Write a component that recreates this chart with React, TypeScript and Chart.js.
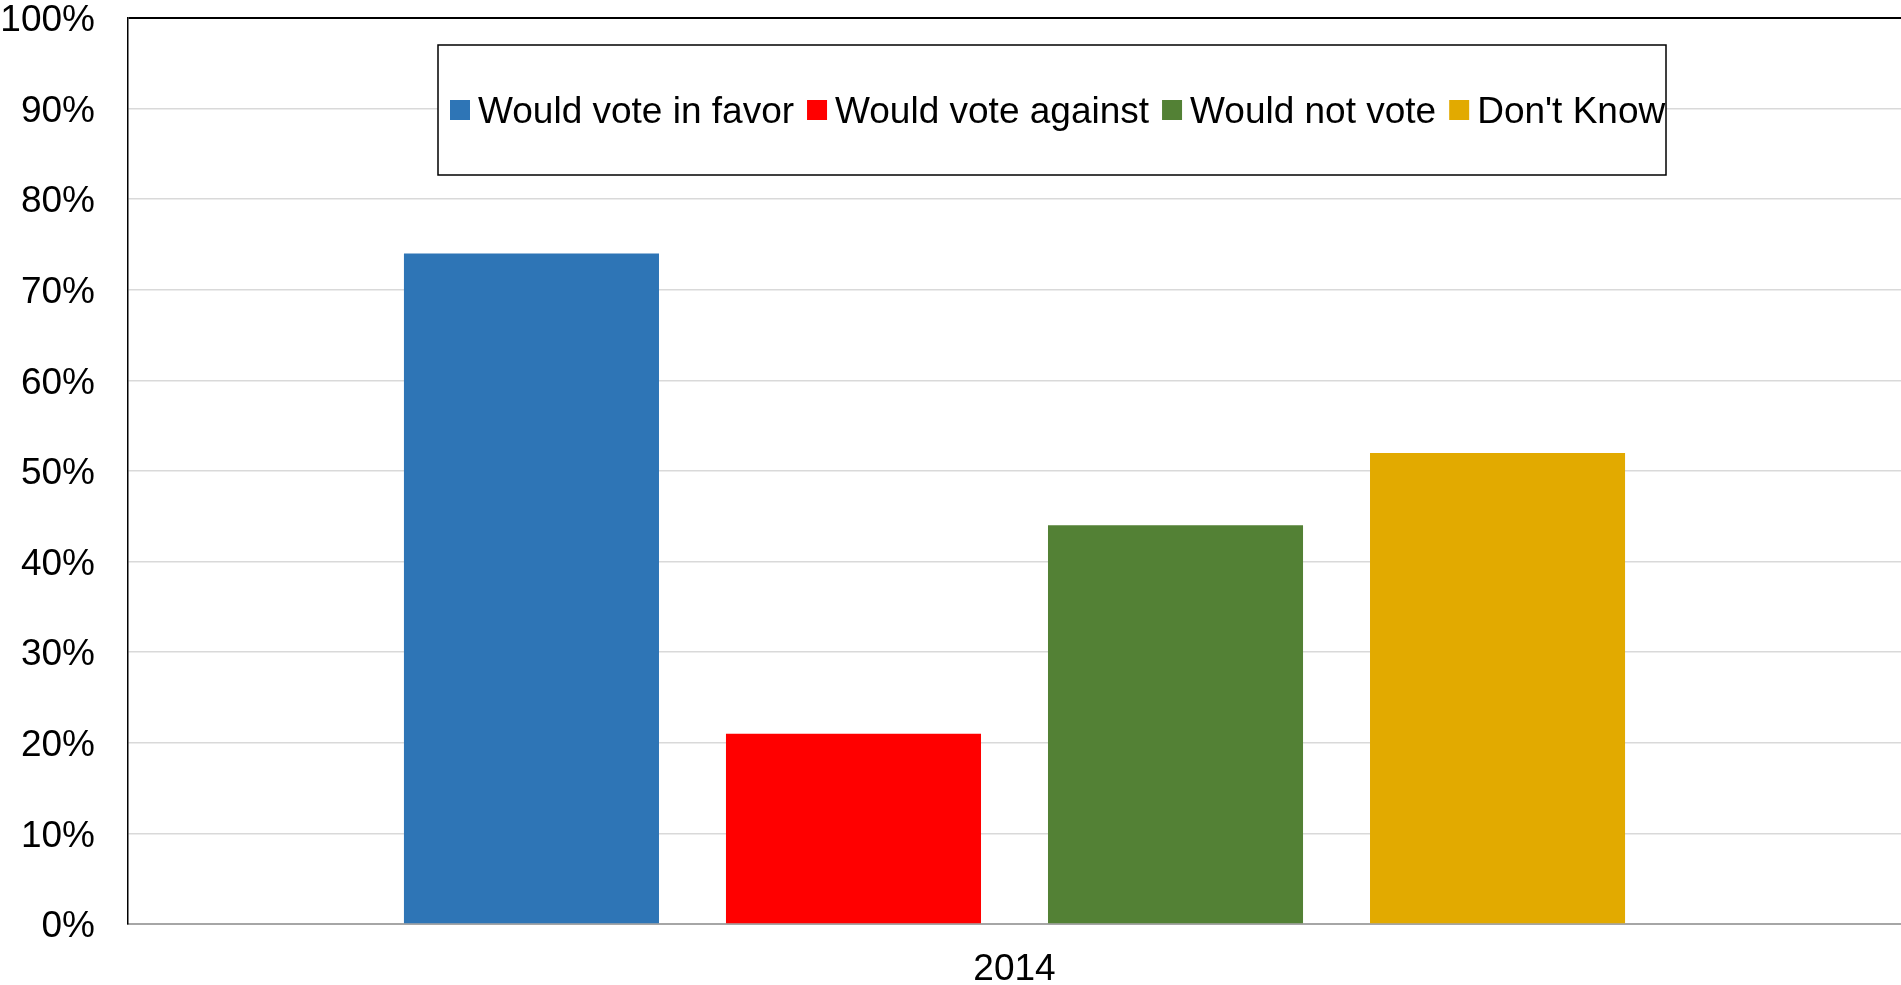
import React, { useEffect, useRef } from "react";
import { Chart, registerables } from "chart.js";

Chart.register(...registerables);

const categories = ["2014"];
const seriesNames = ["Would vote in favor", "Would vote against", "Would not vote", "Don't Know"];
const favorValues = [74];
const againstValues = [21];
const notVoteValues = [44];
const dontKnowValues = [52];
const seriesColors = ["#2E75B6", "#FF0000", "#538135", "#E2AA00"];
const yMin = 0;
const yMax = 100;
const yStep = 10;

const FONT = '"Liberation Sans", Arial, sans-serif';

const boxedLegend = {
  id: "boxedLegend",
  afterDraw(chart: any) {
    const ctx = chart.ctx as CanvasRenderingContext2D;
    const bx = 438, by = 45, bw = 1228, bh = 130;
    ctx.save();
    ctx.fillStyle = "#ffffff";
    ctx.fillRect(bx, by, bw, bh);
    ctx.strokeStyle = "#000000";
    ctx.lineWidth = 1.5;
    ctx.strokeRect(bx, by, bw, bh);
    ctx.font = `37px ${FONT}`;
    ctx.textBaseline = "alphabetic";
    ctx.textAlign = "left";
    let x = 450;
    chart.data.datasets.forEach((ds: any) => {
      ctx.fillStyle = ds.backgroundColor;
      ctx.fillRect(x, 100, 20, 20);
      x += 28;
      ctx.fillStyle = "#000000";
      ctx.fillText(ds.label, x, 123);
      x += ctx.measureText(ds.label).width + 13;
    });
    ctx.restore();
  },
};

export default function App() {
  const canvasRef = useRef<HTMLCanvasElement | null>(null);

  useEffect(() => {
    if (!canvasRef.current) return;
    const values = [favorValues, againstValues, notVoteValues, dontKnowValues];
    const chart = new Chart(canvasRef.current, {
      type: "bar",
      data: {
        labels: categories,
        datasets: seriesNames.map((name, i) => ({
          label: name,
          data: values[i],
          backgroundColor: seriesColors[i],
          borderWidth: 0,
          categoryPercentage: 0.7265,
          barPercentage: 0.792,
        })),
      },
      options: {
        responsive: false,
        animation: false,
        events: [],
        layout: { padding: { top: 18, left: 0, right: 0, bottom: 0 } },
        plugins: {
          legend: { display: false },
          tooltip: { enabled: false },
          title: { display: false },
        },
        scales: {
          x: {
            afterFit: (s: any) => {
              s.height = 61;
              s.paddingLeft = 0;
              s.paddingRight = 0;
            },
            grid: { display: false, drawTicks: false },
            border: { display: true, color: "#a6a6a6", width: 2 },
            ticks: {
              color: "#000000",
              padding: 27,
              font: { family: FONT, size: 37, lineHeight: 1 },
            },
          },
          y: {
            min: yMin,
            max: yMax,
            afterFit: (s: any) => {
              s.width = 128;
              s.paddingTop = 0;
              s.paddingBottom = 0;
            },
            grid: {
              drawTicks: false,
              color: (c: any) =>
                c.tick && c.tick.value === yMax ? "#000000" : c.tick && c.tick.value === yMin ? "#a6a6a6" : "#d9d9d9",
              lineWidth: (c: any) => (c.tick && c.tick.value === yMax ? 2 : 1.5),
            },
            border: { display: true, color: "#000000", width: 1.5 },
            ticks: {
              stepSize: yStep,
              color: "#000000",
              padding: 33,
              labelOffset: 3,
              font: { family: FONT, size: 37, lineHeight: 1 },
              callback: (v: any) => `${v}%`,
            },
          },
        },
      },
      plugins: [boxedLegend],
    });
    return () => chart.destroy();
  }, []);

  return (
    <div style={{ position: "fixed", left: 0, top: 0, width: 1901, height: 985, overflow: "hidden", background: "#fff" }}>
      <canvas ref={canvasRef} width={1901} height={985} style={{ display: "block", width: 1901, height: 985 }} />
    </div>
  );
}
